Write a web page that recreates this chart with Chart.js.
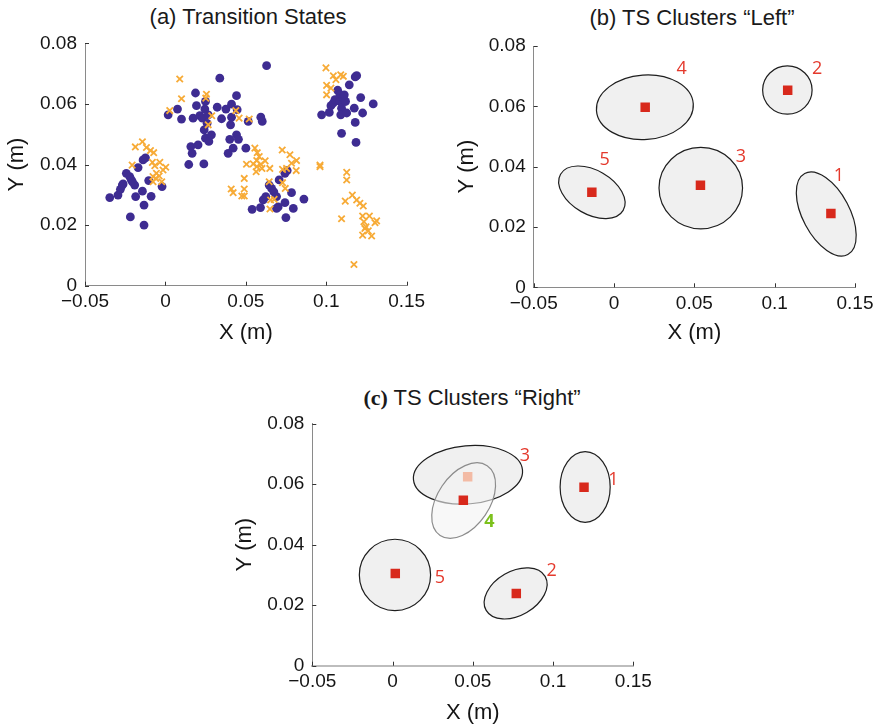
<!DOCTYPE html>
<html>
<head>
<meta charset="utf-8">
<script src="https://cdn.jsdelivr.net/npm/chart.js@4.4.1/dist/chart.umd.min.js"></script>
<style>
  body { margin: 0; background: #fff; width: 879px; height: 726px; overflow: hidden; position: relative;
         font-family: "Liberation Sans", Arial, sans-serif; }
  canvas { position: absolute; }
  .ttl { position: absolute; font-size: 22px; line-height: 22px; color: #1a1a1a; white-space: nowrap; transform: translateX(-50%); }
  .ttl b { font-family: "Liberation Serif", serif; }
</style>
</head>
<body>
<div class="ttl" style="left:248px; top:6px;">(a) Transition States</div>
<div class="ttl" style="left:692px; top:7px;">(b) TS Clusters “Left”</div>
<div class="ttl" style="left:472px; top:387px;"><b>(c)</b> TS Clusters “Right”</div>

<canvas id="chartA" width="440" height="350" style="left:0; top:0; width:440px; height:350px;"></canvas>
<canvas id="chartB" width="439" height="350" style="left:440px; top:0; width:439px; height:350px;"></canvas>
<canvas id="chartC" width="440" height="346" style="left:220px; top:380px; width:440px; height:346px;"></canvas>

<script>
// axis ticks
const xTicks = [-0.05, 0, 0.05, 0.1, 0.15];
const yTicks = [0, 0.02, 0.04, 0.06, 0.08];

// (a) transition states - two populations
const purpleX = [-0.0346, -0.0295, -0.0280, -0.0263, -0.0243, -0.0222, -0.0205, -0.0191, -0.0185, -0.0170,
                 -0.0139, -0.0124, -0.0104, -0.0143, -0.0089, -0.0133, -0.0218, -0.0133, -0.0021, -0.0212, -0.0268,
                 0.0017, 0.0075, 0.0100, 0.0187, 0.0172, 0.0193, 0.0214, 0.0230, 0.0249, 0.0245,
                 0.0266, 0.0241, 0.0249, 0.0270, 0.0286, 0.0259, 0.0338, 0.0322, 0.0349, 0.0376,
                 0.0411, 0.0411, 0.0405, 0.0442, 0.0446, 0.0400, 0.0442, 0.0454, 0.0421, 0.0390,
                 0.0500, 0.0515, 0.0593, 0.0602, 0.0158, 0.0166, 0.0145, 0.0239, 0.0203, 0.0629,
                 0.0539, 0.0591, 0.0608, 0.0624, 0.0645, 0.0660, 0.0674, 0.0691, 0.0707, 0.0743,
                 0.0757, 0.0701, 0.0743, 0.0749, 0.0784, 0.0795, 0.0861, 0.0691,
                 0.0971, 0.1019, 0.1029, 0.1044, 0.1054, 0.1071, 0.1085, 0.1085, 0.1095, 0.1090,
                 0.1106, 0.1120, 0.1127, 0.1143, 0.1174, 0.1180, 0.1189, 0.1214, 0.1226, 0.1292,
                 0.1180, 0.1095, 0.1185, 0.1112];
const purpleY = [0.0291, 0.0299, 0.0318, 0.0336, 0.0371, 0.0360, 0.0343, 0.0332, 0.0294, 0.0390,
                 0.0415, 0.0422, 0.0347, 0.0312, 0.0295, 0.0266, 0.0227, 0.0200, 0.0327, 0.0349, 0.0332,
                 0.0564, 0.0583, 0.0550, 0.0636, 0.0553, 0.0594, 0.0561, 0.0553, 0.0608, 0.0583,
                 0.0564, 0.0514, 0.0487, 0.0476, 0.0498, 0.0536, 0.0685, 0.0589, 0.0551, 0.0583,
                 0.0599, 0.0556, 0.0531, 0.0627, 0.0581, 0.0483, 0.0498, 0.0483, 0.0454, 0.0437,
                 0.0454, 0.0542, 0.0556, 0.0542, 0.0459, 0.0437, 0.0400, 0.0402, 0.0465, 0.0726,
                 0.0252, 0.0258, 0.0283, 0.0294, 0.0332, 0.0321, 0.0310, 0.0294, 0.0349, 0.0371,
                 0.0380, 0.0260, 0.0274, 0.0225, 0.0307, 0.0255, 0.0286, 0.0255,
                 0.0564, 0.0572, 0.0594, 0.0603, 0.0614, 0.0645, 0.0630, 0.0608, 0.0586, 0.0564,
                 0.0620, 0.0608, 0.0570, 0.0663, 0.0586, 0.0689, 0.0693, 0.0621, 0.0570, 0.0600,
                 0.0539, 0.0503, 0.0473, 0.0630];
const orangeX = [-0.0143, -0.0187, -0.0118, -0.0093, -0.0073, -0.0207, -0.0081, -0.0066, -0.0035, -0.0015,
                 0.0002, -0.0056, -0.0039, -0.0077, -0.0023, -0.0077, -0.0060,
                 0.0089, 0.0100, 0.0027, 0.0255, 0.0251, 0.0288, 0.0266, 0.0438, 0.0458, 0.0521,
                 0.0556, 0.0571, 0.0583, 0.0568, 0.0546, 0.0504, 0.0593, 0.0620, 0.0568, 0.0564,
                 0.0600, 0.0649, 0.0726, 0.0774, 0.0815, 0.0784, 0.0813, 0.0728, 0.0753, 0.0490,
                 0.0490, 0.0409, 0.0421, 0.0475, 0.0490, 0.0745, 0.0645, 0.0654, 0.0650, 0.0676, 0.0728,
                 0.0998, 0.1002, 0.1029, 0.1002, 0.1044, 0.1060, 0.1090, 0.1106, 0.0961, 0.0961,
                 0.1127, 0.1127, 0.1118, 0.1162, 0.1189, 0.1209, 0.1230, 0.1095, 0.1226, 0.1268,
                 0.1234, 0.1240, 0.1261, 0.1226, 0.1282, 0.1303, 0.1313, 0.1172, 0.1247];
const orangeY = [0.0475, 0.0458, 0.0456, 0.0446, 0.0439, 0.0398, 0.0407, 0.0396, 0.0407, 0.0382,
                 0.0391, 0.0371, 0.0362, 0.0360, 0.0343, 0.0343, 0.0354,
                 0.0682, 0.0617, 0.0578, 0.0632, 0.0619, 0.0561, 0.0531, 0.0578, 0.0553, 0.0550,
                 0.0454, 0.0439, 0.0426, 0.0413, 0.0402, 0.0401, 0.0401, 0.0412, 0.0393, 0.0376,
                 0.0387, 0.0387, 0.0448, 0.0432, 0.0413, 0.0404, 0.0380, 0.0384, 0.0387, 0.0354,
                 0.0319, 0.0319, 0.0307, 0.0296, 0.0296, 0.0321, 0.0343, 0.0283, 0.0253, 0.0285, 0.0340,
                 0.0719, 0.0661, 0.0652, 0.0630, 0.0693, 0.0680, 0.0696, 0.0691, 0.0398, 0.0393,
                 0.0374, 0.0349, 0.0279, 0.0299, 0.0283, 0.0272, 0.0263, 0.0221, 0.0230, 0.0230,
                 0.0211, 0.0189, 0.0181, 0.0167, 0.0164, 0.0208, 0.0214, 0.0070, 0.0194];

// (b) clusters "Left": ellipse centre, half-widths (x units / y units), tilt (deg), cluster mean, label anchor
const leftIds    = ['1', '2', '3', '4', '5'];
const leftCx     = [0.1321, 0.1079, 0.0540, 0.0192, -0.0138];
const leftCy     = [0.0243, 0.0654, 0.0329, 0.0597, 0.0315];
const leftRx     = [0.0286, 0.0154, 0.0260, 0.0302, 0.0225];
const leftRy     = [0.0078, 0.0080, 0.0135, 0.0107, 0.0073];
const leftTilt   = [62, 0, 0, -4, 30];
const leftMeanX  = [0.1350, 0.1081, 0.0538, 0.0194, -0.0138];
const leftMeanY  = [0.0245, 0.0653, 0.0338, 0.0597, 0.0315];
const leftLabelX = [0.1400, 0.1265, 0.0790, 0.0421, -0.0058];
const leftLabelY = [0.0369, 0.0723, 0.0433, 0.0723, 0.0424];

// (c) clusters "Right"
const rightIds    = ['1', '2', '5', '3', '4'];
const rightCx     = [0.1200, 0.0767, 0.0015, 0.0470, 0.0443];
const rightCy     = [0.0591, 0.0239, 0.0300, 0.0631, 0.0546];
const rightRx     = [0.0156, 0.0212, 0.0222, 0.0341, 0.0262];
const rightRy     = [0.0117, 0.0073, 0.0118, 0.0096, 0.0086];
const rightTilt   = [0, -30, 0, -5, -56];
const rightMeanX  = [0.1193, 0.0771, 0.0017, 0.0468, 0.0441];
const rightMeanY  = [0.0590, 0.0239, 0.0305, 0.0625, 0.0547];
const rightLabelX = [0.1376, 0.0992, 0.0295, 0.0825, 0.0603];
const rightLabelY = [0.0614, 0.0314, 0.0289, 0.0693, 0.0476];

const TXT = '#151515';
const RED = '#d8291c';

function fmtTick(v) {
    const r = Math.round(v * 100) / 100;
    return r === 0 ? '0' : String(r).replace('-', '\u2212');
}

function pts(xs, ys) { return xs.map((x, i) => ({ x: x, y: ys[i] })); }

function axes(yWidth, xHeight, yTitlePad, xTitlePad, xBorder) {
    const tickFont = { family: '"Liberation Sans", Arial, sans-serif', size: 19 };
    const titleFont = { family: '"Liberation Sans", Arial, sans-serif', size: 22, lineHeight: 1.2 };
    return {
        x: {
            type: 'linear', min: -0.05, max: 0.15,
            afterBuildTicks: s => { s.ticks = xTicks.map(v => ({ value: v })); },
            afterFit: s => { s.height = xHeight; s.paddingLeft = 0; s.paddingRight = 0; },
            grid: { display: false, drawTicks: false },
            border: { display: true, color: xBorder.color, width: xBorder.width },
            ticks: { font: tickFont, color: TXT, padding: 5, callback: fmtTick, maxRotation: 0, autoSkip: false },
            title: { display: true, text: 'X (m)', font: titleFont, color: TXT, padding: { top: 0, bottom: xTitlePad } }
        },
        y: {
            type: 'linear', min: 0, max: 0.08,
            afterBuildTicks: s => { s.ticks = yTicks.map(v => ({ value: v })); },
            afterFit: s => { s.width = yWidth; s.paddingTop = 0; s.paddingBottom = 0; },
            grid: { display: false, drawTicks: false },
            border: { display: true, color: '#8a8a8a', width: 1 },
            ticks: { font: tickFont, color: TXT, padding: 8, callback: fmtTick, autoSkip: false },
            title: { display: true, text: 'Y (m)', font: titleFont, color: TXT, padding: { top: yTitlePad, bottom: 0 } }
        }
    };
}

// inward tick marks
const innerTicks = {
    id: 'innerTicks',
    afterDraw(chart) {
        const { ctx, chartArea: a, scales: { x, y } } = chart;
        ctx.save();
        ctx.strokeStyle = '#333';
        ctx.lineWidth = 1;
        ctx.beginPath();
        x.ticks.forEach(t => {
            const px = Math.round(x.getPixelForValue(t.value)) + 0.5;
            ctx.moveTo(px, a.bottom); ctx.lineTo(px, a.bottom - 4);
        });
        y.ticks.forEach(t => {
            const py = Math.round(y.getPixelForValue(t.value)) + 0.5;
            ctx.moveTo(a.left, py); ctx.lineTo(a.left + 4, py);
        });
        ctx.stroke();
        ctx.restore();
    }
};

// cluster ellipses, drawn under the markers
const ellipses = {
    id: 'ellipses',
    beforeDatasetsDraw(chart, args, opts) {
        if (!opts.cx) return;
        const { ctx, scales: { x, y } } = chart;
        ctx.save();
        opts.cx.forEach((cxv, i) => {
            const cx = x.getPixelForValue(cxv), cy = y.getPixelForValue(opts.cy[i]);
            const rx = Math.abs(x.getPixelForValue(cxv + opts.rx[i]) - cx);
            const ry = Math.abs(y.getPixelForValue(opts.cy[i] + opts.ry[i]) - cy);
            const faint = opts.ids[i] === opts.faint;
            ctx.beginPath();
            ctx.ellipse(cx, cy, rx, ry, opts.tilt[i] * Math.PI / 180, 0, 2 * Math.PI);
            ctx.fillStyle = faint ? 'rgba(244,244,244,0.6)' : '#f0f0f0';
            ctx.fill();
            ctx.lineWidth = 1.2;
            ctx.strokeStyle = faint ? '#8c8c8c' : '#1e1e1e';
            ctx.stroke();
        });
        ctx.restore();
    },
    afterDatasetsDraw(chart, args, opts) {
        if (!opts.lx) return;
        const { ctx, scales: { x, y } } = chart;
        ctx.save();
        ctx.textAlign = 'center';
        ctx.textBaseline = 'middle';
        opts.lx.forEach((lxv, i) => {
            const green = opts.ids[i] === opts.faint;
            ctx.font = (green ? 'bold ' : '') + '18px "Open Sans", sans-serif';
            ctx.fillStyle = green ? '#7cc11c' : '#e4392c';
            ctx.fillText(opts.ids[i], x.getPixelForValue(lxv), y.getPixelForValue(opts.ly[i]));
        });
        ctx.restore();
    }
};

Chart.register(innerTicks, ellipses);

function baseOptions(pad, ax, ell) {
    return {
        responsive: false,
        animation: false,
        events: [],
        layout: { padding: pad },
        plugins: { legend: { display: false }, tooltip: { enabled: false }, ellipses: ell },
        scales: ax
    };
}

new Chart(document.getElementById('chartA'), {
    type: 'scatter',
    data: {
        datasets: [
            { label: 'TS right', data: pts(orangeX, orangeY), pointStyle: 'crossRot', pointRadius: 4.5,
              borderWidth: 1.8, borderColor: '#f7ab37', backgroundColor: '#f7ab37', order: 0 },
            { label: 'TS left', data: pts(purpleX, purpleY), pointStyle: 'circle', pointRadius: 4.4,
              borderWidth: 0, backgroundColor: '#3e2c92', order: 1 }
        ]
    },
    options: baseOptions({ left: 0, top: 43.3, right: 33.3, bottom: 0 },
                         axes(85, 64.3, 3.8, 3.8, { color: '#8a8a8a', width: 1 }), {})
});

new Chart(document.getElementById('chartB'), {
    type: 'scatter',
    data: {
        datasets: [{
            label: 'means', data: pts(leftMeanX, leftMeanY), pointStyle: 'rect', pointRadius: 6.7,
            borderWidth: 0, backgroundColor: RED
        }]
    },
    options: baseOptions({ left: 0, top: 46, right: 24, bottom: 0 },
                         axes(93.7, 62.7, 13.5, 3.8, { color: '#8a8a8a', width: 1 }),
                         { ids: leftIds, cx: leftCx, cy: leftCy, rx: leftRx, ry: leftRy, tilt: leftTilt,
                           lx: leftLabelX, ly: leftLabelY, faint: null })
});

new Chart(document.getElementById('chartC'), {
    type: 'scatter',
    data: {
        datasets: [{
            label: 'means', data: pts(rightMeanX, rightMeanY), pointStyle: 'rect', pointRadius: 6.7,
            borderWidth: 0, backgroundColor: rightIds.map(id => id === '3' ? '#f3bba5' : RED)
        }]
    },
    options: baseOptions({ left: 0, top: 43.7, right: 26.7, bottom: 0 },
                         axes(92.3, 60.3, 11.8, 0, { color: '#bdbdbd', width: 2 }),
                         { ids: rightIds, cx: rightCx, cy: rightCy, rx: rightRx, ry: rightRy, tilt: rightTilt,
                           lx: rightLabelX, ly: rightLabelY, faint: '4' })
});
</script>
</body>
</html>
